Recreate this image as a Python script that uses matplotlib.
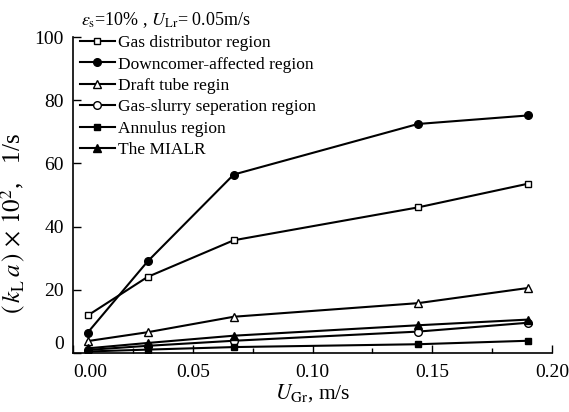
import matplotlib
matplotlib.use("Agg")
import matplotlib.pyplot as plt

plt.rcParams["font.family"] = "Liberation Serif"
plt.rcParams["mathtext.fontset"] = "stix"

# data
u_gr = [0.006, 0.031, 0.067, 0.144, 0.190]
gas_distributor = [11.9, 24.1, 35.7, 46.1, 53.6]
downcomer = [6.5, 29.0, 56.5, 72.5, 75.2]
draft_tube = [3.8, 6.6, 11.5, 15.8, 20.6]
gas_slurry = [1.0, 2.3, 3.9, 6.8, 9.6]
annulus = [0.5, 1.1, 1.9, 2.8, 3.9]
mialr = [1.5, 3.2, 5.5, 8.8, 10.6]

x_ticks = [0.0, 0.05, 0.10, 0.15, 0.20]
x_minor = [0.025, 0.075, 0.125, 0.175]
x_ticklabels = ["0.00", "0.05", "0.10", "0.15", "0.20"]
y_ticks = [0, 20, 40, 60, 80, 100]

labels = ["Gas distributor region", "Downcomer-affected region", "Draft tube regin",
          "Gas-slurry seperation region", "Annulus region", "The MIALR"]
series = [gas_distributor, downcomer, draft_tube, gas_slurry, annulus, mialr]
markers = ["s", "o", "^", "o", "s", "^"]
filled = [False, True, False, False, True, True]

fig = plt.figure(figsize=(5.69, 4.12), dpi=100)
ax = fig.add_axes([0.129, 0.143, 0.841, 0.767])

for y, lab, m, f in zip(series, labels, markers, filled):
    ax.plot(u_gr, y, color="black", lw=1.5, marker=m, ms=5.5 if m != "s" else 5,
            mfc="black" if f else "white", mec="black", mew=1.0, label=lab)

ax.set_xlim(0, 0.2)
ax.set_ylim(0, 100)
ax.set_xticks(x_ticks)
ax.set_xticks(x_minor, minor=True)
ax.set_xticklabels(x_ticklabels)
ax.set_yticks(y_ticks)
ax.tick_params(axis="both", which="major", direction="in", length=6, width=1,
               labelsize=14)
ax.tick_params(axis="x", which="minor", direction="in", length=3.5, width=1)
ax.tick_params(axis="x", pad=8)
ax.tick_params(axis="y", pad=7)
ax.get_xticklabels()[0].set_horizontalalignment("left")
ax.get_yticklabels()[0].set_verticalalignment("bottom")

for s in ["top", "right"]:
    ax.spines[s].set_visible(False)
for s in ["left", "bottom"]:
    ax.spines[s].set_linewidth(1.2)

ax.set_xlabel(r"$U_{\rm Gr}$, m/s", fontsize=15.5, labelpad=1)
ax.set_ylabel(r"$(\,k_{\rm L}\,a\,)\,\times\,10^{2}$,   1/s", fontsize=18,
              labelpad=1)
ax.yaxis.set_label_coords(-0.095, 0.41)

fig.text(0.143, 0.952, r"$\varepsilon_{\rm s}$=10% , $U_{\rm Lr}$= 0.05m/s",
         fontsize=13, va="center")

ax.legend(loc="upper left", bbox_to_anchor=(-0.012, 1.045), frameon=False,
          fontsize=12.5, handlelength=2.0, handletextpad=0.2,
          labelspacing=0.3, borderaxespad=0.3)

fig.savefig("out.png", dpi=100)
